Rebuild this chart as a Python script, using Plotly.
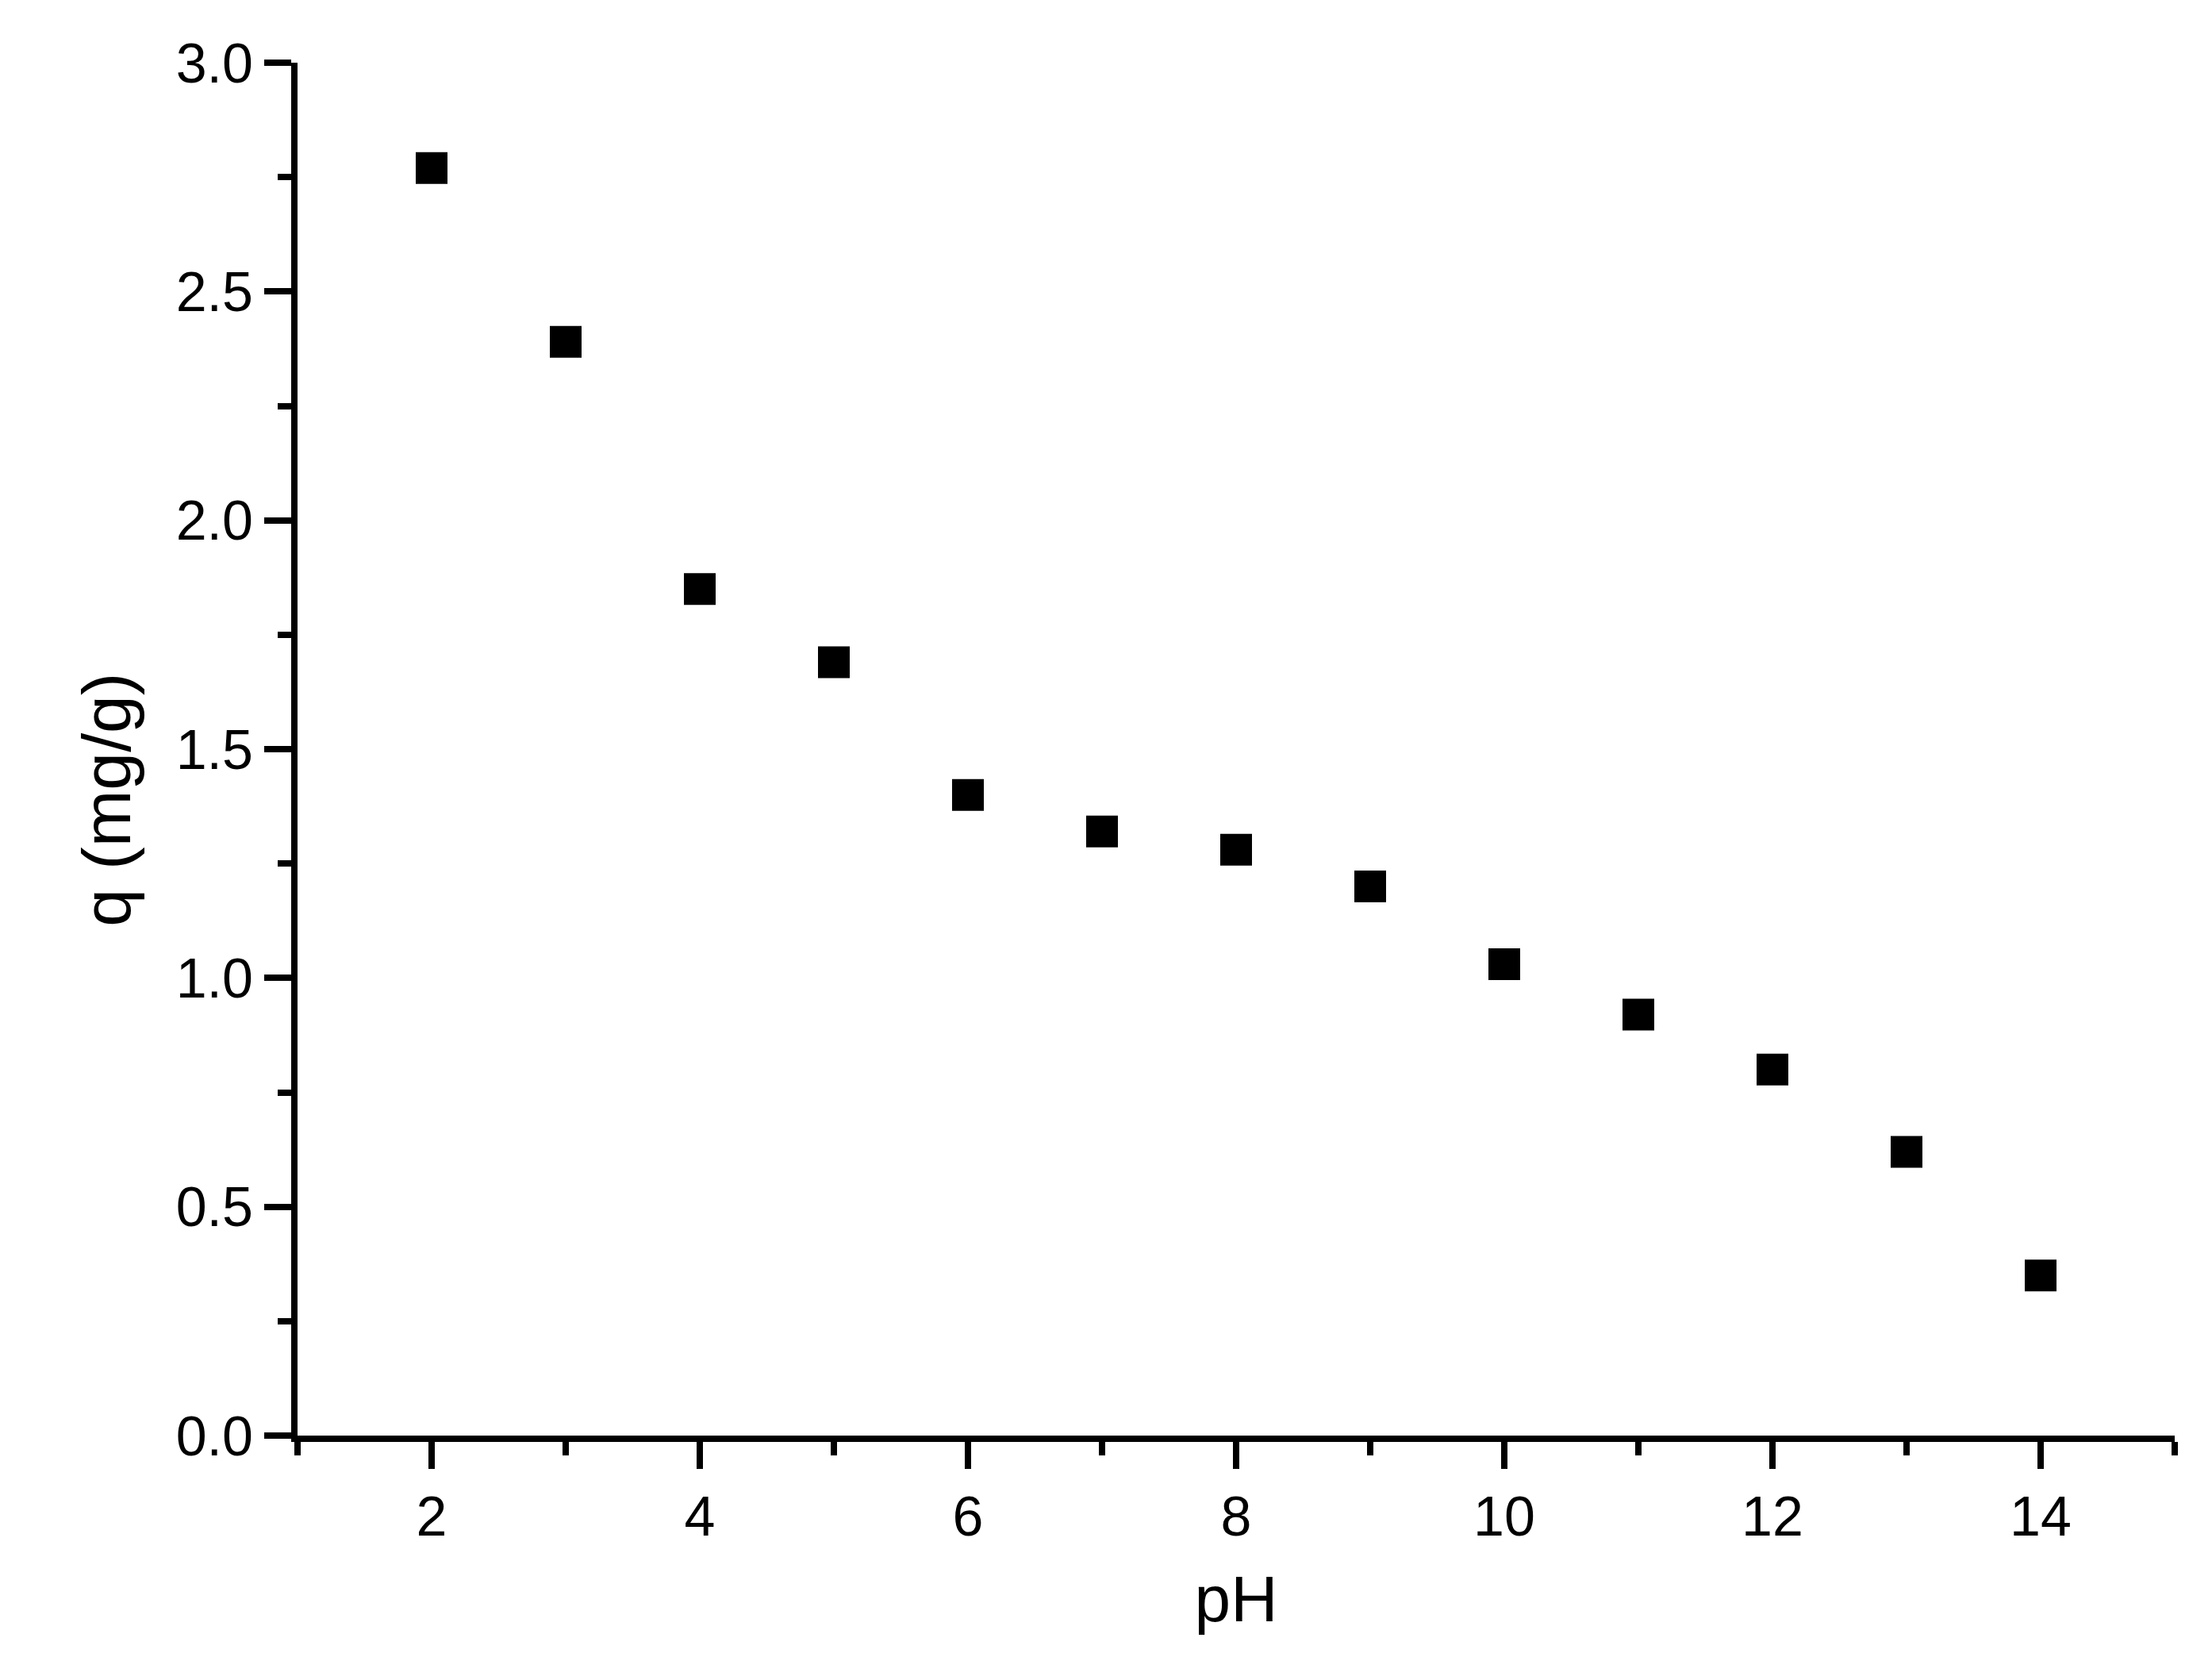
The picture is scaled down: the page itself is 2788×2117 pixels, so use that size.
import plotly.graph_objects as go

# pH vs adsorption capacity
ph = [2, 3, 4, 5, 6, 7, 8, 9, 10, 11, 12, 13, 14]
q_mg_g = [2.77, 2.39, 1.85, 1.69, 1.40, 1.32, 1.28, 1.20, 1.03, 0.92, 0.80, 0.62, 0.35]

x_title = "pH"
y_title = "q (mg/g)"

FONT = "Arial, Liberation Sans, sans-serif"

fig = go.Figure()
fig.add_trace(go.Scatter(
    x=ph,
    y=q_mg_g,
    mode="markers",
    marker=dict(symbol="square", size=40, color="black", line=dict(width=0)),
    showlegend=False,
))

axis_common = dict(
    showgrid=False,
    zeroline=False,
    showline=True,
    linecolor="black",
    linewidth=8,
    ticks="outside",
    ticklen=34,
    tickwidth=8,
    tickcolor="black",
    tickfont=dict(family=FONT, size=70, color="black"),
)

fig.update_xaxes(
    range=[1, 15],
    tick0=0,
    dtick=2,
    minor=dict(dtick=1, ticks="outside", ticklen=17, tickwidth=8, tickcolor="black"),
    title_text=x_title,
    title_font=dict(family=FONT, size=82, color="black"),
    title_standoff=40,
    **axis_common,
)
fig.update_yaxes(
    range=[0, 3],
    tick0=0,
    dtick=0.5,
    tickformat=".1f",
    minor=dict(dtick=0.25, ticks="outside", ticklen=17, tickwidth=8, tickcolor="black"),
    **axis_common,
)

# y title sits a little below the middle of the axis in the original, so place it by hand
fig.add_annotation(
    text=y_title,
    xref="paper", yref="paper",
    x=-0.102, y=0.463,
    xanchor="center", yanchor="middle",
    textangle=-90,
    showarrow=False,
    font=dict(family=FONT, size=86, color="black"),
)

fig.update_layout(
    width=2788,
    height=2117,
    margin=dict(l=367, r=55, t=71, b=316),
    plot_bgcolor="white",
    paper_bgcolor="white",
    font=dict(family=FONT, color="black"),
)

fig.write_html("out.html")
